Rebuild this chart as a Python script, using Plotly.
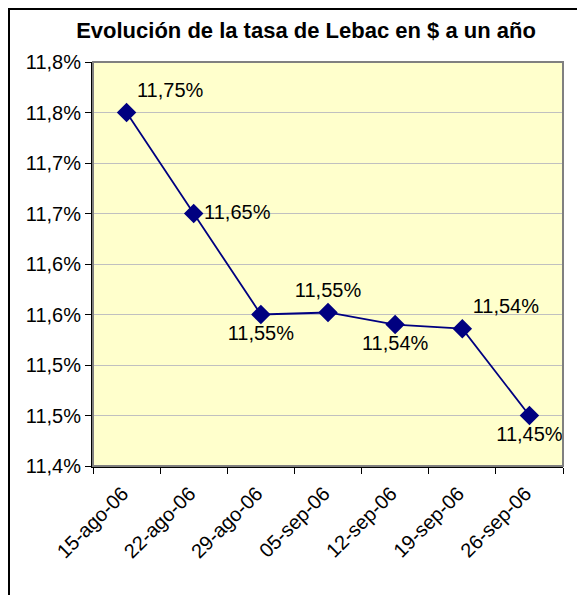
import plotly.graph_objects as go

fechas = ["15-ago-06", "22-ago-06", "29-ago-06", "05-sep-06", "12-sep-06", "19-sep-06", "26-sep-06"]
tasa = [11.75, 11.65, 11.55, 11.552, 11.540, 11.536, 11.45]
etiquetas = ["11,75%", "11,65%", "11,55%", "11,55%", "11,54%", "11,54%", "11,45%"]
posiciones = ["top right", "middle right", "bottom center", "top center", "bottom center", "top right", "bottom center"]
y_ticks = [11.40, 11.45, 11.50, 11.55, 11.60, 11.65, 11.70, 11.75, 11.80]
y_tick_labels = ["11,4%", "11,5%", "11,5%", "11,6%", "11,6%", "11,7%", "11,7%", "11,8%", "11,8%"]

FONT = "Liberation Sans, Arial, sans-serif"
NAVY = "#000080"

fig = go.Figure()
fig.add_trace(go.Scatter(
    x=fechas, y=tasa,
    mode="lines+markers+text",
    line=dict(color=NAVY, width=1.8),
    marker=dict(symbol="diamond", size=15, color=NAVY),
    text=etiquetas,
    textposition=posiciones,
    textfont=dict(family=FONT, size=20, color="black"),
    cliponaxis=False,
    showlegend=False,
))

# page body has an 8px margin: figure pixels = visible pixels - OFF
OFF = 8
W, H = 585, 595
L, T = 93 - OFF, 62 - OFF
R = W - (563 - OFF)
B = H - (466 - OFF)
pw, ph = W - L - R, H - T - B

def px_x(v):
    return (v - OFF - L) / pw

def px_y(v):
    return (H - B - (v - OFF)) / ph

fig.update_layout(
    width=W, height=H,
    margin=dict(l=L, r=R, t=T, b=B, pad=0),
    paper_bgcolor="white",
    plot_bgcolor="#FFFFCC",
    font=dict(family=FONT, size=20, color="black"),
    title=dict(text="<b>Evolución de la tasa de Lebac en $ a un año</b>",
               x=(306 - OFF) / W, xanchor="center", y=1 - (30 - OFF) / H, yanchor="middle",
               font=dict(family=FONT, size=22, color="black")),
    shapes=[
        dict(type="rect", xref="paper", yref="paper",
             x0=0, x1=1, y0=0, y1=1,
             line=dict(color="#808080", width=2), fillcolor="rgba(0,0,0,0)", layer="above"),
        dict(type="rect", xref="paper", yref="paper",
             x0=px_x(OFF + 1), x1=px_x(620), y0=px_y(640), y1=px_y(OFF + 1),
             line=dict(color="black", width=2), fillcolor="rgba(0,0,0,0)", layer="above"),
    ],
)

fig.update_xaxes(
    type="category",
    range=[-0.5, 6.5],
    tickson="boundaries",
    ticks="outside", ticklen=6, tickcolor="black", tickwidth=1,
    tickangle=-45,
    ticklabelstandoff=6,
    ticklabelshift=-4,
    tickfont=dict(family=FONT, size=20, color="black"),
    showline=True, linecolor="black", linewidth=2,
    showgrid=False, zeroline=False,
)
fig.update_yaxes(
    range=[11.4, 11.8],
    tickvals=y_ticks, ticktext=y_tick_labels,
    ticks="outside", ticklen=6, tickcolor="black", tickwidth=1,
    tickfont=dict(family=FONT, size=20, color="black"),
    showline=True, linecolor="black", linewidth=2,
    showgrid=True, gridcolor="#C0C0C0", gridwidth=1,
    zeroline=False,
)

fig.write_html("out.html")
